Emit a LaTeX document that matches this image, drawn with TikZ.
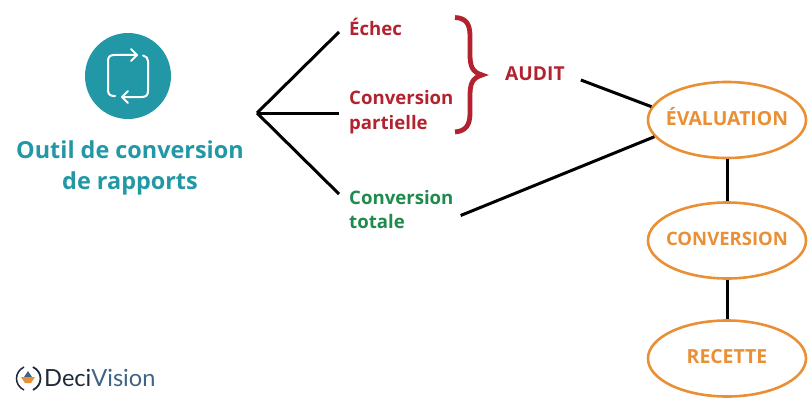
\documentclass[tikz,border=0pt]{standalone}
\usepackage{fontspec}
\setmainfont{Open Sans}
\newfontfamily\logofont{Lato}
\usetikzlibrary{shapes.geometric}
\definecolor{teal1}{HTML}{2297A6}
\definecolor{red1}{HTML}{B2232F}
\definecolor{green1}{HTML}{1E8A4C}
\definecolor{orange1}{HTML}{E98F35}
\definecolor{navy1}{HTML}{1F2A38}
\definecolor{blue1}{HTML}{3F6285}
\newcommand{\phasetext}[1]{\makebox[0pt]{\smash{\raisebox{-5pt}{#1}}}}
\tikzset{
 x=1pt,y=-1pt,
 link/.style={draw=black,line width=3pt},
 phase/.style={ellipse,draw=orange1,line width=2.6pt,minimum width=158pt,minimum height=76pt,inner sep=0pt,text=orange1,font=\fontsize{19.4}{22}\selectfont\bfseries},
 redtxt/.style={text=red1,font=\fontsize{18.6}{24.5}\selectfont\bfseries,align=left,inner sep=0pt},
 greentxt/.style={text=green1,font=\fontsize{18.6}{24.5}\selectfont\bfseries,align=left,inner sep=0pt},
 icon/.style={draw=white,line width=2pt,line cap=round,line join=round},
}
\begin{document}
\begin{tikzpicture}
\useasboundingbox (0,0) rectangle (811,404);
% title block
\node[circle,fill=teal1,minimum size=86pt,inner sep=0pt] (disc) at (128,76) {};
\node[text=teal1,font=\fontsize{23.4}{31}\selectfont\bfseries,align=center,inner sep=0pt] (title) at (130,168) {Outil de conversion\\de rapports};
\draw[icon] (137,55) -- (114,55) .. controls (110,55) and (108,57) .. (108,61) -- (108,90) .. controls (108,94) and (110,96) .. (114,96) -- (115,96);
\draw[icon] (131,49) -- (137,55) -- (131,61);
\draw[icon] (122,97) -- (142,97) .. controls (146,97) and (148,95) .. (148,91) -- (148,61) .. controls (148,58) and (146,56) .. (143,55.5);
\draw[icon] (128,91) -- (122,97) -- (128,103);
% branches
\coordinate (hub) at (257,113);
\node[redtxt,anchor=west] (echec) at (349,26.5) {Échec};
\node[redtxt,anchor=west] (partielle) at (349,112) {Conversion\\partielle};
\node[greentxt,anchor=west] (totale) at (349,209.5) {Conversion\\totale};
\node[redtxt,anchor=west,font=\fontsize{19.2}{24}\selectfont\bfseries] (audit) at (505,74) {AUDIT};
\node[phase] (eval) at (727,120) {\phasetext{ÉVALUATION}};
\node[phase,font=\fontsize{18.5}{22}\selectfont\bfseries] (conv) at (727,240.5) {\phasetext{CONVERSION}};
\node[phase] (rec) at (727,358.5) {\phasetext{RECETTE}};
\draw[link] (hub) -- ([xshift=-10pt,yshift=-5.5pt]echec.west);
\draw[link] (hub) -- ([xshift=-10pt,yshift=-1pt]partielle.west);
\draw[link] (hub) -- ([xshift=-10pt,yshift=15.5pt]totale.west);
\draw[link] ([xshift=16pt,yshift=-6pt]audit.east) -- (eval.170);
\draw[link] ([xshift=7pt,yshift=-6pt]totale.east) -- (eval.193);
\draw[link] (eval.south) -- (conv.north);
\draw[link] (conv.south) -- (rec.north);
% brace
\draw[draw=red1,line width=4.8pt] (455,17.5) .. controls (466,18) and (470,24) .. (470,36) -- (470,54) .. controls (470,66) and (472,72) .. (482,75) .. controls (472,78) and (470,84) .. (470,96) -- (470,113) .. controls (470,125) and (466,131) .. (455,132);
% logo
\draw[navy1,line width=1.5pt] (24,367) .. controls (14,372) and (14,385) .. (24,390);
\draw[navy1,line width=1.8pt] (33,367) .. controls (43,372) and (43,385) .. (33,390);
\fill[blue1] (28,371) -- (24,377) -- (32,377) -- cycle;
\fill[orange1] (21,377) -- (35,377) -- (31,383) -- (25,383) -- cycle;
\node[anchor=west,inner sep=0pt,font=\logofont\fontsize{23.6}{28}\selectfont] (logo) at (44,378) {\textcolor{navy1}{Deci}\textcolor{blue1}{Vision}};
\end{tikzpicture}
\end{document}
